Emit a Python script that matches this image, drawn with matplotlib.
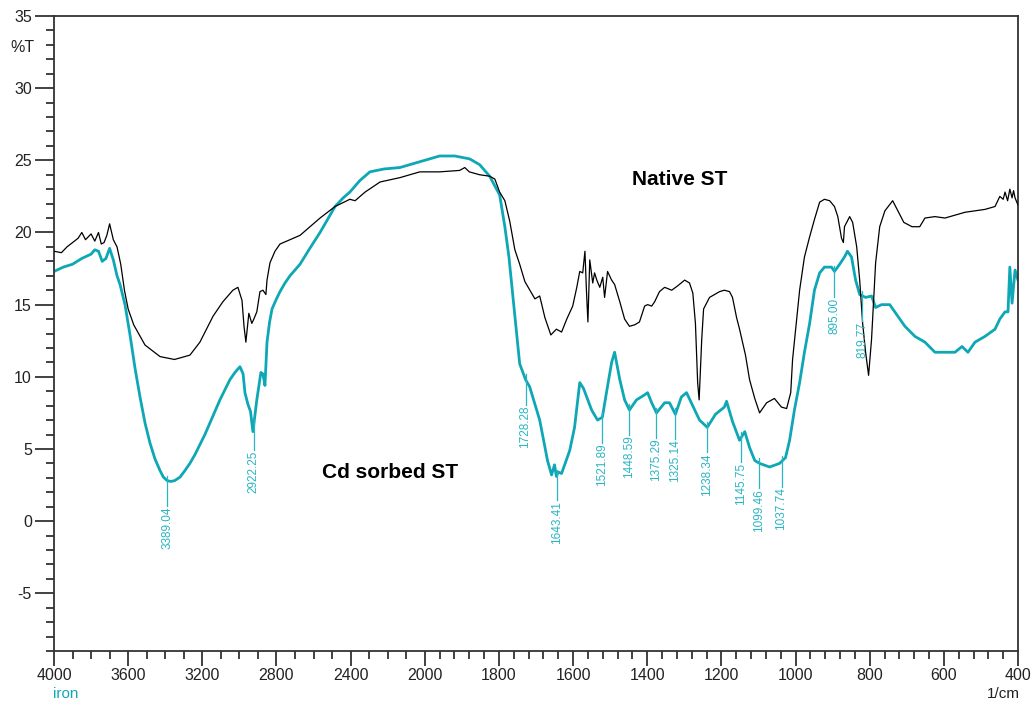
import numpy as np
import matplotlib
matplotlib.use("Agg")
import matplotlib.pyplot as plt
from matplotlib.ticker import MultipleLocator, FixedLocator

plt.rcParams['font.family'] = ['Liberation Sans', 'DejaVu Sans']
plt.rcParams['axes.unicode_minus'] = False

# ---------------- data ----------------
native_wn = [4000, 3960, 3930, 3900, 3870, 3850, 3830, 3800, 3780, 3760, 3745, 3730, 3715, 3700,
             3680, 3660, 3640, 3620, 3600, 3570, 3509, 3428, 3350, 3267, 3213, 3142, 3089, 3035,
             3008, 2986, 2975, 2965, 2949, 2933, 2922, 2906, 2889, 2873, 2857, 2851, 2835, 2808,
             2781, 2673, 2565, 2484, 2404, 2376, 2322, 2241, 2134, 2027, 1960, 1906, 1892, 1880,
             1852, 1825, 1811, 1798, 1784, 1771, 1757, 1744, 1730, 1703, 1690, 1676, 1660, 1645,
             1631, 1617, 1601, 1590, 1582, 1574, 1568, 1564, 1560, 1555, 1547, 1542, 1536, 1528,
             1520, 1515, 1507, 1496, 1488, 1474, 1461, 1448, 1434, 1421, 1407, 1399, 1388, 1380,
             1367, 1353, 1334, 1318, 1299, 1286, 1277, 1270, 1264, 1260, 1253, 1248, 1232, 1205,
             1192, 1178, 1170, 1159, 1151, 1135, 1124, 1110, 1097, 1078, 1057, 1038, 1024, 1013,
             1008, 989, 976, 962, 949, 935, 922, 908, 895, 886, 876, 871, 868, 854, 846, 835, 827,
             819, 811, 803, 795, 784, 773, 759, 738, 724, 708, 686, 665, 651, 624, 597, 570, 543,
             516, 489, 462, 449, 440, 435, 428, 422, 416, 412, 408, 400]
native_t = [18.7, 18.6, 19.0, 19.3, 19.6, 20.0, 19.5, 19.9, 19.4, 20.0, 19.2, 19.3, 19.8, 20.6,
            19.5, 19.0, 17.8, 16.0, 14.7, 13.6, 12.2, 11.4, 11.2, 11.5, 12.4, 14.2, 15.2, 16.0,
            16.2, 15.3, 13.5, 12.4, 14.4, 13.7, 14.0, 14.5, 15.9, 16.0, 15.7, 16.7, 17.9, 18.7,
            19.2, 19.8, 21.0, 21.8, 22.3, 22.2, 22.8, 23.5, 23.8, 24.2, 24.2, 24.3, 24.5, 24.2,
            24.0, 23.9, 23.7, 22.8, 22.2, 20.8, 18.8, 17.8, 16.6, 15.4, 15.6, 14.1, 12.9, 13.3,
            13.1, 14.0, 14.9, 16.2, 17.3, 17.2, 18.7, 16.0, 13.8, 18.1, 16.5, 17.2, 16.7, 16.2,
            16.9, 15.5, 17.3, 16.7, 16.4, 15.2, 14.0, 13.5, 13.6, 13.8, 14.9, 15.0, 14.9, 15.2,
            15.9, 16.2, 16.0, 16.3, 16.7, 16.5, 15.8, 13.7, 9.6, 8.4, 12.6, 14.7, 15.5, 15.9,
            16.0, 15.9, 15.5, 14.1, 13.3, 11.5, 9.8, 8.5, 7.5, 8.2, 8.5, 7.9, 7.8, 8.9,
            11.2, 16.0, 18.3, 19.7, 20.9, 22.1, 22.3, 22.2, 21.8, 21.1, 19.6, 19.3, 20.4, 21.1,
            20.7, 19.0, 16.7, 13.7, 11.7, 10.1, 12.6, 17.9, 20.4, 21.5, 22.2, 21.5, 20.7, 20.4,
            20.4, 21.0, 21.1, 21.0, 21.2, 21.4, 21.5, 21.6, 21.8, 22.5, 22.3, 22.8, 22.2, 23.0,
            22.4, 22.9, 22.4, 21.9]

cd_wn = [4000, 3950, 3900, 3850, 3800, 3780, 3760, 3740, 3720, 3700, 3680, 3660, 3644, 3617,
         3590, 3563, 3536, 3509, 3482, 3455, 3428, 3410, 3389, 3370, 3350, 3320, 3294, 3267,
         3240, 3213, 3186, 3159, 3132, 3105, 3078, 3051, 3024, 2997, 2980, 2970,
         2954, 2940, 2927, 2906, 2884, 2873, 2862, 2851, 2837, 2824, 2800, 2781, 2754, 2727,
         2700, 2673, 2620, 2565, 2520, 2484, 2440,
         2404, 2350, 2296, 2220, 2134, 2027, 1960, 1919, 1879, 1852, 1825, 1798, 1784, 1773,
         1758, 1744,
         1728, 1717, 1690, 1669, 1658, 1650, 1645, 1640, 1631, 1609, 1596, 1582, 1572, 1550,
         1534, 1521, 1510, 1496, 1488, 1474, 1461, 1448, 1429, 1407, 1399, 1388, 1375, 1353,
         1340, 1324, 1308, 1294, 1281, 1259, 1238, 1216, 1192, 1186, 1170, 1151, 1137, 1124,
         1110, 1097, 1070, 1043, 1027, 1016, 1003, 989, 976, 962, 949, 935, 922, 903, 895, 881,
         868, 860, 849, 838, 827, 811, 795, 784, 768, 746, 724, 705, 678, 651, 624, 597, 570,
         551, 535, 516, 489, 462, 449, 435, 427, 422, 416, 408, 400]
cd_t = [17.3, 17.6, 17.8, 18.2, 18.5, 18.8, 18.7, 18.0, 18.2, 18.9, 18.1, 17.0, 16.4, 15.0,
        12.9, 10.6, 8.6, 6.8, 5.4, 4.3, 3.5, 3.05, 2.8, 2.75, 2.8, 3.05, 3.5, 4.0,
        4.6, 5.3, 6.0, 6.8, 7.6, 8.4, 9.1, 9.8, 10.3, 10.7, 10.2, 8.9,
        8.1, 7.6, 6.2, 8.4, 10.3, 10.2, 9.4, 12.4, 13.8, 14.7, 15.4, 15.9, 16.5, 17.0,
        17.4, 17.8, 18.9, 20.0, 21.0, 21.8, 22.4,
        22.8, 23.6, 24.2, 24.4, 24.5, 24.9, 25.3, 25.3, 25.1, 24.7, 23.9, 22.6, 20.4, 18.3,
        14.5, 10.9,
        9.8, 9.3, 7.0, 4.2, 3.2, 3.9, 3.1, 3.4, 3.3, 4.9, 6.5, 9.6, 9.2, 7.7,
        7.0, 7.2, 8.9, 11.0, 11.7, 9.8, 8.4, 7.7, 8.4, 8.75, 8.9, 8.2, 7.5, 8.2,
        8.2, 7.4, 8.6, 8.9, 8.2, 7.0, 6.5, 7.4, 7.9, 8.3, 6.9, 5.6, 6.2, 5.1,
        4.2, 4.0, 3.75, 4.0, 4.4, 5.6, 7.7, 9.6, 11.7, 13.7, 16.0, 17.2, 17.6, 17.6, 17.3, 17.8,
        18.3, 18.7, 18.3, 16.7, 15.7, 15.5, 15.6, 14.8, 15.0, 15.0, 14.2, 13.5, 12.8, 12.4, 11.7, 11.7, 11.7,
        12.1, 11.7, 12.4, 12.8, 13.3, 14.0, 14.5, 14.5, 17.6, 15.1, 17.4, 16.7]

peak_labels = [3389.04, 2922.25, 1728.28, 1643.41, 1521.89, 1448.59, 1375.29, 1325.14,
               1238.34, 1145.75, 1099.46, 1037.74, 895.00, 819.77]

y_ticks = [-5, 0, 5, 10, 15, 20, 25, 30, 35]
x_ticks = [4000, 3600, 3200, 2800, 2400, 2000, 1800, 1600, 1400, 1200, 1000, 800, 600, 400]

# ---------------- scale (2x expansion below 2000 1/cm) ----------------
def fwd(x):
    x = np.asarray(x, dtype=float)
    return np.where(x > 2000, 2000 + (x - 2000) / 2.0, x)

def inv(u):
    u = np.asarray(u, dtype=float)
    return np.where(u > 2000, 2000 + (u - 2000) * 2.0, u)

TEAL = '#0ea7b5'
TEAL_TXT = '#2bb5c2'
AX_COL = '#333333'

fig = plt.figure(figsize=(10.33, 7.02), dpi=100)
ax = fig.add_axes([54 / 1033, 1 - 651 / 702, (1018 - 54) / 1033, (651 - 16) / 702])
ax.set_xscale('function', functions=(fwd, inv))
ax.set_xlim(4000, 400)
ax.set_ylim(-9, 35)

ax.plot(native_wn, native_t, color='black', lw=0.9, zorder=3)
ax.plot(cd_wn, cd_t, color=TEAL, lw=2.0, zorder=2)

# peak labels
cx = np.array(cd_wn[::-1], dtype=float)
cy = np.array(cd_t[::-1], dtype=float)
for wn in peak_labels:
    v = float(np.interp(wn, cx, cy))
    ax.plot([wn, wn], [v + 0.35, v - 1.75], color=TEAL_TXT, lw=0.9, zorder=4)
    ax.text(wn, v - 1.8, f"{wn:.2f}", rotation=90, ha='center', va='top',
            fontsize=8.5, color=TEAL_TXT, zorder=4)

# axes styling
for s in ax.spines.values():
    s.set_color(AX_COL)
    s.set_linewidth(1.3)
ax.xaxis.set_major_locator(FixedLocator(x_ticks))
minor_x = list(range(4000, 2000, -100)) + list(range(2000, 399, -40))
ax.xaxis.set_minor_locator(FixedLocator(minor_x))
ax.set_xticklabels([str(t) for t in x_ticks])
ax.yaxis.set_major_locator(FixedLocator(y_ticks))
ax.yaxis.set_minor_locator(MultipleLocator(1))
ax.tick_params(axis='both', which='major', direction='out', length=11, width=1.3,
               color=AX_COL, labelsize=11.5, labelcolor='#222222')
ax.tick_params(axis='both', which='minor', direction='out', length=6, width=1.3, color=AX_COL)
ax.tick_params(axis='y', which='major', length=14, pad=2)
ax.tick_params(axis='x', which='major', pad=1.5)

# labels
fig.text(22 / 1033, 1 - 48 / 702, '%T', fontsize=11.5, ha='center', va='center', color='#222222')
fig.text(66 / 1033, 1 - 694 / 702, 'iron', fontsize=11, ha='center', va='center', color=TEAL)
fig.text(1003 / 1033, 1 - 694 / 702, '1/cm', fontsize=11, ha='center', va='center', color='#222222')

ax.text(1312, 23.7, 'Native ST', fontsize=15, fontweight='bold', ha='center', va='center')
ax.text(2555, 3.4, 'Cd sorbed ST', fontsize=15, fontweight='bold', ha='left', va='center')

fig.savefig('out.png', dpi=100)
